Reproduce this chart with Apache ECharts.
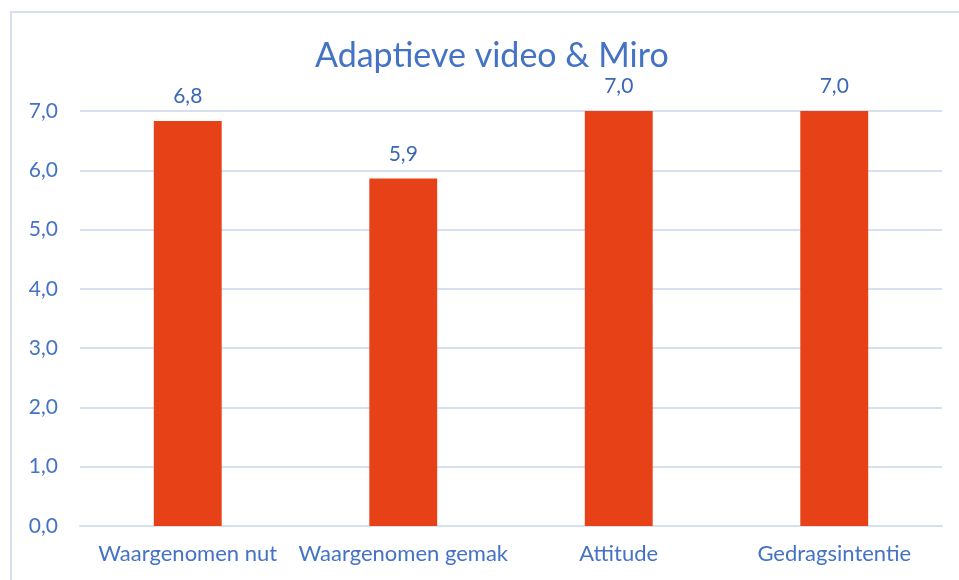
<!DOCTYPE html>
<html lang="nl">
<head>
    <meta charset="UTF-8">
    <title>Adaptieve video &amp; Miro</title>
    <script src="https://cdn.jsdelivr.net/npm/echarts@6.0.0/dist/echarts.min.js"></script>
    <style>
        html, body { margin: 0; padding: 0; background: #fff; }
        #chart { width: 959px; height: 580px; }
    </style>
</head>
<body>
    <div id="chart"></div>
    <script type="text/javascript">
    // data
    const categories = ['Waargenomen nut', 'Waargenomen gemak', 'Attitude', 'Gedragsintentie'];
    const scores = [6.83, 5.86, 7.0, 7.0];

    const font = 'Lato, "Open Sans", sans-serif';
    const blue = '#4472C4';

    var chart = echarts.init(document.getElementById('chart'));
    var option = {
        animation: false,
        title: {
            text: 'Adaptieve video & Miro',
            left: 310,
            top: 34,
            textStyle: { color: blue, fontFamily: font, fontWeight: 'normal', fontSize: 34 }
        },
        // light frame around the chart area
        graphic: [{
            type: 'rect',
            shape: { x: 11, y: 12, width: 1000, height: 1000 },
            style: { fill: 'none', stroke: '#D6E0F0', lineWidth: 2 },
            silent: true
        }],
        grid: { left: 80, right: 17, top: 111, bottom: 54 },
        xAxis: {
            type: 'category',
            data: categories,
            axisLine: { lineStyle: { color: '#D6E0F0', width: 2 } },
            axisTick: { show: false },
            axisLabel: { color: blue, fontFamily: font, fontSize: 22, margin: 17, interval: 0 }
        },
        yAxis: {
            type: 'value',
            min: 0,
            max: 7,
            interval: 1,
            axisLine: { show: false },
            axisTick: { show: false },
            splitLine: { lineStyle: { color: '#D6E0F0', width: 2 } },
            axisLabel: {
                color: blue, fontFamily: font, fontSize: 21, margin: 22,
                formatter: (v) => v.toFixed(1).replace('.', ',')
            }
        },
        series: [{
            type: 'bar',
            data: scores,
            barWidth: '31.5%',
            itemStyle: { color: '#E64117' },
            label: {
                show: true,
                position: 'top',
                distance: 14,
                color: '#3B68B5',
                fontFamily: font,
                fontSize: 21,
                formatter: (p) => p.value.toFixed(1).replace('.', ',')
            }
        }]
    };
    chart.setOption(option);
    </script>
</body>
</html>
